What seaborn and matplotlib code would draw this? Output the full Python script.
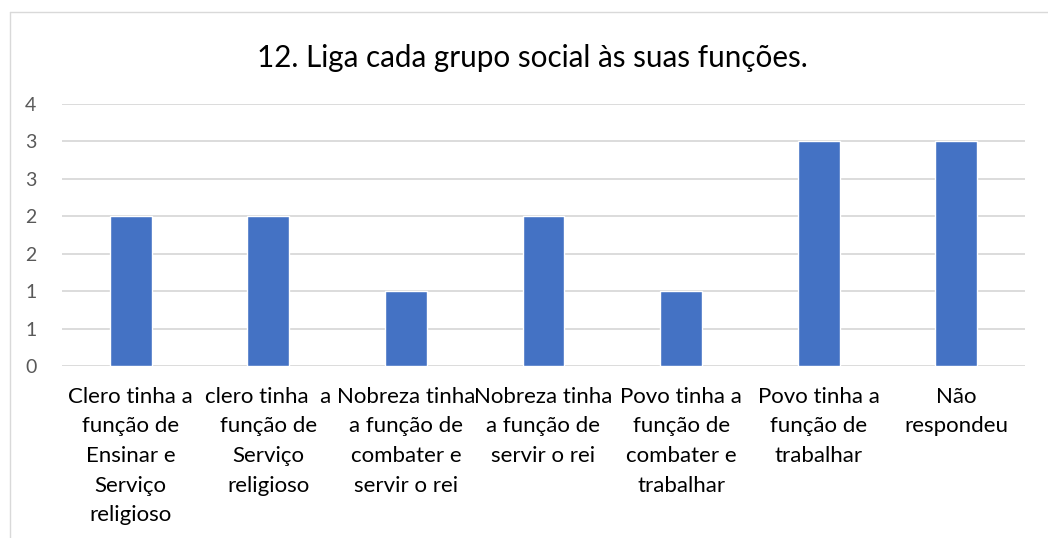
import matplotlib
matplotlib.use("Agg")
import matplotlib.pyplot as plt
from matplotlib.lines import Line2D
import seaborn as sns
import pandas as pd

title = "12. Liga cada grupo social às suas funções."
categories = [
    "Clero tinha a\nfunção de\nEnsinar e\nServiço\nreligioso",
    "clero tinha  a\nfunção de\nServiço\nreligioso",
    "Nobreza tinha\na função de\ncombater e\nservir o rei",
    "Nobreza tinha\na função de\nservir o rei",
    "Povo tinha a\nfunção de\ncombater e\ntrabalhar",
    "Povo tinha a\nfunção de\ntrabalhar",
    "Não\nrespondeu",
]
values = [2, 2, 1, 2, 1, 3, 3]
ytick_values = [0, 0.5, 1, 1.5, 2, 2.5, 3, 3.5]
ytick_labels = ["0", "1", "1", "2", "2", "3", "3", "4"]

sns.set_theme(style="white")
plt.rcParams["font.family"] = ["Lato", "DejaVu Sans"]

W, H = 1048, 538
fig = plt.figure(figsize=(W / 100, H / 100), dpi=100)
ax = fig.add_axes([62 / W, 1 - 366 / H, (1025 - 62) / W, (366 - 104) / H])

df = pd.DataFrame({"cat": categories, "val": values})
sns.barplot(data=df, x="cat", y="val", color="#4472C4", saturation=1,
            width=0.305, ax=ax, zorder=3)

ax.set_ylim(0, 3.5)
ax.set_xlim(-0.5, len(categories) - 0.5)
ax.set_yticks(ytick_values)
ax.set_yticklabels(ytick_labels, color="#595959", fontsize=14)
ax.tick_params(axis="y", length=0, pad=18.5)
ax.tick_params(axis="x", length=0, pad=15, labelsize=16, labelcolor="#000000")
for lbl in ax.get_xticklabels():
    lbl.set_linespacing(1.6)
ax.set_xlabel("")
ax.set_ylabel("")
for y in ytick_values:
    ax.axhline(y, color="#D9D9D9", lw=1.3, zorder=1)
for s in ax.spines.values():
    s.set_visible(False)

fig.text(532 / W, 1 - 58 / H, title, ha="center", va="center", fontsize=21.3, color="#000000")

# chart border (left and top visible)
fig.add_artist(Line2D([9.5 / W, 9.5 / W], [0, 1 - 12 / H], transform=fig.transFigure,
                      color="#D9D9D9", lw=1))
fig.add_artist(Line2D([9.5 / W, 1], [1 - 12 / H, 1 - 12 / H], transform=fig.transFigure,
                      color="#D9D9D9", lw=1))

fig.savefig("out.png", dpi=100, facecolor="white")
